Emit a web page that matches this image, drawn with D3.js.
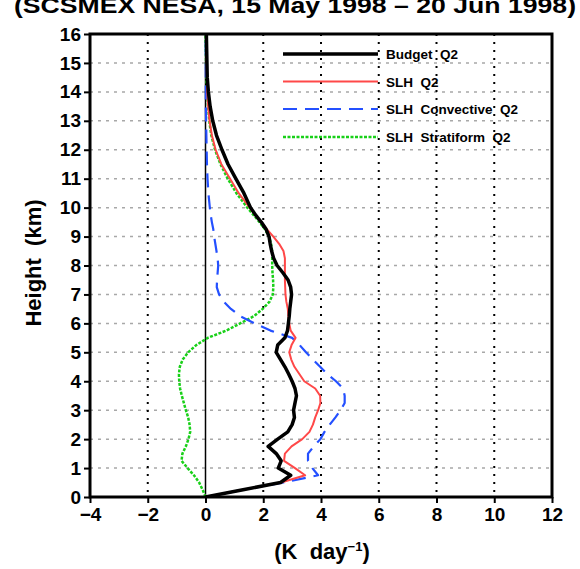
<!DOCTYPE html>
<html><head><meta charset="utf-8">
<script src="https://cdn.jsdelivr.net/npm/d3@7"></script>
<style>
html,body{margin:0;padding:0;background:#fff;}
svg{display:block;}
text{font-family:"Liberation Sans",Arial,Helvetica,sans-serif;font-weight:bold;fill:#000;}
</style></head>
<body>
<svg id="chart" width="580" height="569"></svg>
<script>
const titleText = "(SCSMEX NESA, 15 May 1998 \u2013 20 Jun 1998)";
const heights = [0,0.25,0.5,0.75,1,1.25,1.5,1.75,2,2.25,2.5,2.75,3,3.25,3.5,3.75,4,4.25,4.5,4.75,5,5.25,5.5,5.75,6,6.25,6.5,6.75,7,7.25,7.5,7.75,8,8.25,8.5,8.75,9,9.25,9.5,9.75,10,10.5,11,11.5,12,12.5,13,13.5,14,14.5,15,15.5,16];
const budgetQ2 = [0,1.3,2.6,2.95,2.52,2.62,2.45,2.17,2.5,2.85,3.0,3.08,3.05,3.1,3.15,3.1,3.0,2.88,2.75,2.6,2.45,2.5,2.75,2.84,2.87,2.9,2.92,2.95,2.98,2.95,2.86,2.68,2.48,2.36,2.29,2.24,2.2,2.1,1.93,1.73,1.56,1.33,1.05,0.78,0.57,0.38,0.25,0.16,0.1,0.06,0.05,0.04,0.03];
const slhQ2 = [0,1.3,2.62,3.45,3.1,2.72,2.75,2.98,3.35,3.6,3.72,3.8,3.9,3.98,3.97,3.8,3.42,3.25,3.08,2.97,2.9,2.98,3.12,2.95,2.9,2.87,2.85,2.8,2.77,2.76,2.75,2.75,2.75,2.75,2.7,2.55,2.35,2.13,1.93,1.72,1.53,1.15,0.85,0.55,0.35,0.22,0.14,0.09,0.06,0.05,0.04,0.03,0.02];
const slhConvQ2 = [0,1.3,2.7,3.9,3.7,3.55,3.55,3.75,3.98,4.12,4.3,4.5,4.68,4.82,4.82,4.76,4.52,4.22,3.97,3.72,3.48,3.26,3.0,2.25,1.7,1.2,0.88,0.63,0.47,0.39,0.4,0.42,0.44,0.42,0.38,0.34,0.3,0.27,0.22,0.18,0.15,0.1,0.07,0.05,0.04,0.03,0.02,0.01,0.01,0.01,0.01,0.01,0.01];
const slhStratQ2 = [0,-0.1,-0.22,-0.4,-0.62,-0.83,-0.8,-0.68,-0.59,-0.53,-0.55,-0.6,-0.68,-0.75,-0.82,-0.88,-0.91,-0.92,-0.89,-0.79,-0.6,-0.32,0.08,0.72,1.2,1.68,1.98,2.22,2.33,2.35,2.34,2.32,2.31,2.31,2.31,2.27,2.2,2.06,1.87,1.66,1.45,1.07,0.77,0.52,0.33,0.2,0.13,0.09,0.05,0.03,0.02,0.01,0];
const seriesNames = ["Budget  Q2","SLH  Q2","SLH  Convective  Q2","SLH  Stratiform  Q2"];
const xTicks = [-4,-2,0,2,4,6,8,10,12];
const yTicks = [0,1,2,3,4,5,6,7,8,9,10,11,12,13,14,15,16];

const svg = d3.select("#chart");
const L=90, R=552, T=34, B=497;
const x = d3.scaleLinear().domain([-4,12]).range([L,R]);
const y = d3.scaleLinear().domain([0,16]).range([B,T]);

// title (partly above the top edge, as in the reference)
svg.append("text").attr("x",295).attr("y",13).attr("text-anchor","middle")
  .attr("font-size",22).attr("textLength",562).attr("lengthAdjust","spacingAndGlyphs")
  .text(titleText);

// horizontal grey dotted grid
svg.append("g").selectAll("line").data(yTicks.filter(d=>d>0&&d<16)).join("line")
  .attr("x1",L).attr("x2",R).attr("y1",d=>y(d)).attr("y2",d=>y(d))
  .attr("stroke","#a8a8a8").attr("stroke-width",1.5).attr("stroke-dasharray","3,5");
// vertical black dotted grid
svg.append("g").selectAll("line").data(xTicks.filter(d=>d!==0&&d>-4&&d<12)).join("line")
  .attr("x1",d=>x(d)).attr("x2",d=>x(d)).attr("y1",T).attr("y2",B)
  .attr("stroke","#000").attr("stroke-width",2).attr("stroke-dasharray","2,6");
// zero line
svg.append("line").attr("x1",x(0)).attr("x2",x(0)).attr("y1",T).attr("y2",B)
  .attr("stroke","#000").attr("stroke-width",1.5);

// clip
svg.append("clipPath").attr("id","clip").append("rect")
  .attr("x",L).attr("y",T).attr("width",R-L).attr("height",B-T);

const styles = [
  {data:budgetQ2, color:"#000000", width:3.5, dash:null},
  {data:slhQ2, color:"#ff4848", width:2, dash:null},
  {data:slhConvQ2, color:"#2450ff", width:2.2, dash:"14,8"},
  {data:slhStratQ2, color:"#18d018", width:2.5, dash:"3,1.5"}
];
const line = d3.line().x(d=>x(d[0])).y(d=>y(d[1])).curve(d3.curveLinear);
const gCurves = svg.append("g").attr("clip-path","url(#clip)");
[3,2,1,0].forEach(i=>{
  const s = styles[i];
  gCurves.append("path")
    .datum(heights.map((h,k)=>[s.data[k],h]))
    .attr("d",line).attr("fill","none").attr("stroke",s.color)
    .attr("stroke-width",s.width).attr("stroke-linejoin","round")
    .attr("stroke-dasharray",s.dash);
});

// axes
const gx = svg.append("g").attr("transform",`translate(0,${B})`)
  .call(d3.axisBottom(x).tickValues(xTicks).tickSize(6).tickPadding(5)
    .tickFormat(d=>d<0?"\u2212"+Math.abs(d):d));
gx.select(".domain").remove();
gx.selectAll("line").attr("stroke","#000").attr("stroke-width",2);
gx.selectAll("text").attr("font-size",19).attr("font-family","Liberation Sans, Arial, sans-serif").attr("font-weight","bold");

const gy = svg.append("g").attr("transform",`translate(${L},0)`)
  .call(d3.axisLeft(y).tickValues(yTicks).tickSize(6).tickPadding(3));
gy.select(".domain").remove();
gy.selectAll("line").attr("stroke","#000").attr("stroke-width",2);
gy.selectAll("text").attr("font-size",19).attr("font-family","Liberation Sans, Arial, sans-serif").attr("font-weight","bold");

// frame
svg.append("rect").attr("x",L).attr("y",T).attr("width",R-L).attr("height",B-T)
  .attr("fill","none").attr("stroke","#000").attr("stroke-width",3);

// legend
const legY = [54,81.5,109,137];
const lg = svg.append("g");
seriesNames.forEach((name,i)=>{
  const s = styles[i];
  lg.append("line").attr("x1",283).attr("x2",378).attr("y1",legY[i]).attr("y2",legY[i])
    .attr("stroke",s.color).attr("stroke-width",s.width).attr("stroke-dasharray",s.dash);
  lg.append("text").attr("x",386).attr("y",legY[i]+5).attr("font-size",13.5)
    .style("white-space","pre").text(name);
});

// axis titles
const xt = svg.append("text").attr("x",322).attr("y",559).attr("text-anchor","middle")
  .attr("font-size",22).style("white-space","pre");
xt.append("tspan").text("(K  day");
xt.append("tspan").attr("font-size",13).attr("dy",-8).text("\u22121");
xt.append("tspan").attr("dy",8).text(")");

svg.append("text").attr("transform","translate(41,263) rotate(-90)")
  .attr("text-anchor","middle").attr("font-size",22).style("white-space","pre")
  .text("Height  (km)");
</script>
</body></html>
